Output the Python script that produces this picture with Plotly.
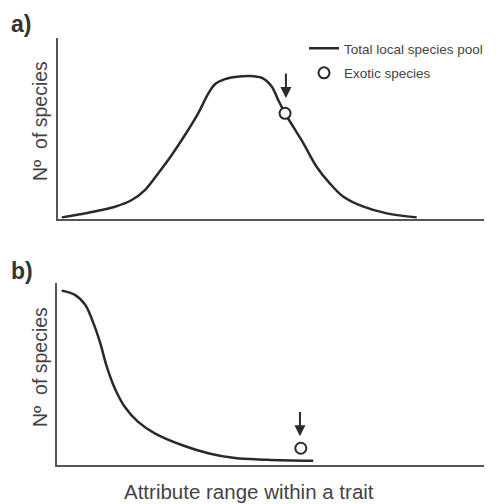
import plotly.graph_objects as go

# Panel a: bell-shaped total local species pool
a_x = [0.9, 7.1, 13.4, 17.3, 20.4, 23.5, 26.7, 29.8, 32.9, 35.3, 36.9, 39.2, 42.0, 45.1, 48.2, 50.2, 51.7, 53.3,
       55.2, 57.6, 60.7, 63.8, 67.0, 71.7, 77.2, 84.2]
a_y = [0.9, 3.5, 6.8, 10.5, 16.0, 25.2, 35.4, 46.4, 58.4, 69.4, 74.6, 77.3, 78.6, 79.0, 77.6, 73.1, 65.7, 58.4,
       51.0, 41.8, 28.9, 19.7, 12.3, 6.8, 3.1, 0.9]
a_exotic_x = [53.3]
a_exotic_y = [58.4]
a_arrow_x = [53.5]
a_arrow_y = [81.2, 66.8]   # tail, tip

# Panel b: decreasing total local species pool
b_x = [1.1, 4.2, 6.6, 8.5, 10.1, 11.6, 13.6, 15.9, 19.0, 22.9, 29.2, 35.4, 41.7, 49.2, 60.0]
b_y = [95.8, 93.5, 88.0, 78.1, 67.2, 54.5, 41.8, 31.9, 23.7, 17.4, 11.0, 6.5, 3.8, 2.9, 2.3]
b_exotic_x = [57.1]
b_exotic_y = [9.2]
b_arrow_x = [56.9]
b_arrow_y = [29.9, 15.8]

series_names = ["Total local species pool", "Exotic species"]

# page body has an 8px margin, so the figure is offset by 8px;
# the figure is a little wider than the window so the legend has room
OFF = 8
FW, FH = 520, 496


def px(p):
    return (p - OFF) / FW


def py(p):
    return (FH - (p - OFF)) / FH


FONT = "Arial, Liberation Sans, sans-serif"
LINE_C = "#2a2a2a"
AXIS_C = "#555555"

fig = go.Figure()

fig.add_trace(go.Scatter(x=a_x, y=a_y, mode="lines", line=dict(color=LINE_C, width=2.5, shape="spline", smoothing=1),
                         name=series_names[0], legendgroup="g1", xaxis="x", yaxis="y"))
fig.add_trace(go.Scatter(x=a_exotic_x, y=a_exotic_y, mode="markers",
                         marker=dict(symbol="circle", size=11, color="white", line=dict(color=LINE_C, width=2)),
                         name=series_names[1], legendgroup="g2", xaxis="x", yaxis="y"))
fig.add_trace(go.Scatter(x=b_x, y=b_y, mode="lines", line=dict(color=LINE_C, width=2.5, shape="spline", smoothing=1),
                         showlegend=False, xaxis="x2", yaxis="y2"))
fig.add_trace(go.Scatter(x=b_exotic_x, y=b_exotic_y, mode="markers",
                         marker=dict(symbol="circle", size=11, color="white", line=dict(color=LINE_C, width=2)),
                         showlegend=False, xaxis="x2", yaxis="y2"))

ax_common = dict(range=[0, 100], showgrid=False, zeroline=False, showticklabels=False, ticks="",
                 showline=True, linecolor=AXIS_C, linewidth=1.6, fixedrange=True)

fig.update_layout(
    width=FW, height=FH,
    margin=dict(l=0, r=0, t=0, b=0),
    paper_bgcolor="white", plot_bgcolor="white",
    font=dict(family=FONT, color="#333333"),
    xaxis=dict(domain=[px(58), px(484)], anchor="y", **ax_common),
    yaxis=dict(domain=[py(219), py(38)], anchor="x", **ax_common),
    xaxis2=dict(domain=[px(57), px(484)], anchor="y2", **ax_common),
    yaxis2=dict(domain=[py(465), py(283)], anchor="x2", **ax_common),
    legend=dict(x=px(304), y=py(33), xanchor="left", yanchor="top",
                font=dict(size=13.5, color="#444444", family=FONT), bgcolor="rgba(0,0,0,0)",
                tracegroupgap=4, itemwidth=30),
    showlegend=True,
)

ann = []
# panel labels
ann.append(dict(text="<b>a)</b>", x=px(9), y=py(24), xref="paper", yref="paper", xanchor="left", yanchor="middle",
                showarrow=False, font=dict(size=23, color="#333333")))
ann.append(dict(text="<b>b)</b>", x=px(9), y=py(271), xref="paper", yref="paper", xanchor="left", yanchor="middle",
                showarrow=False, font=dict(size=23, color="#333333")))
# y titles
for yc in [py(121), py(367)]:
    ann.append(dict(text="Nº\u00a0 of species", x=px(40), y=yc, xref="paper", yref="paper", textangle=-90,
                    xanchor="center", yanchor="middle", showarrow=False, font=dict(size=19.5, color="#444444")))
# x title
ann.append(dict(text="Attribute range within a trait", x=px(249), y=py(491), xref="paper", yref="paper",
                xanchor="center", yanchor="middle", showarrow=False, font=dict(size=20.5, color="#444444")))
# arrows pointing to exotic species
ann.append(dict(x=a_arrow_x[0], y=a_arrow_y[1], ax=a_arrow_x[0], ay=a_arrow_y[0],
                xref="x", yref="y", axref="x", ayref="y", text="", showarrow=True, standoff=0,
                arrowhead=2, arrowsize=1.1, arrowwidth=2, arrowcolor=LINE_C))
ann.append(dict(x=b_arrow_x[0], y=b_arrow_y[1], ax=b_arrow_x[0], ay=b_arrow_y[0],
                xref="x2", yref="y2", axref="x2", ayref="y2", text="", showarrow=True, standoff=0,
                arrowhead=2, arrowsize=1.1, arrowwidth=2, arrowcolor=LINE_C))
fig.update_layout(annotations=ann)

fig.write_html("out.html")
